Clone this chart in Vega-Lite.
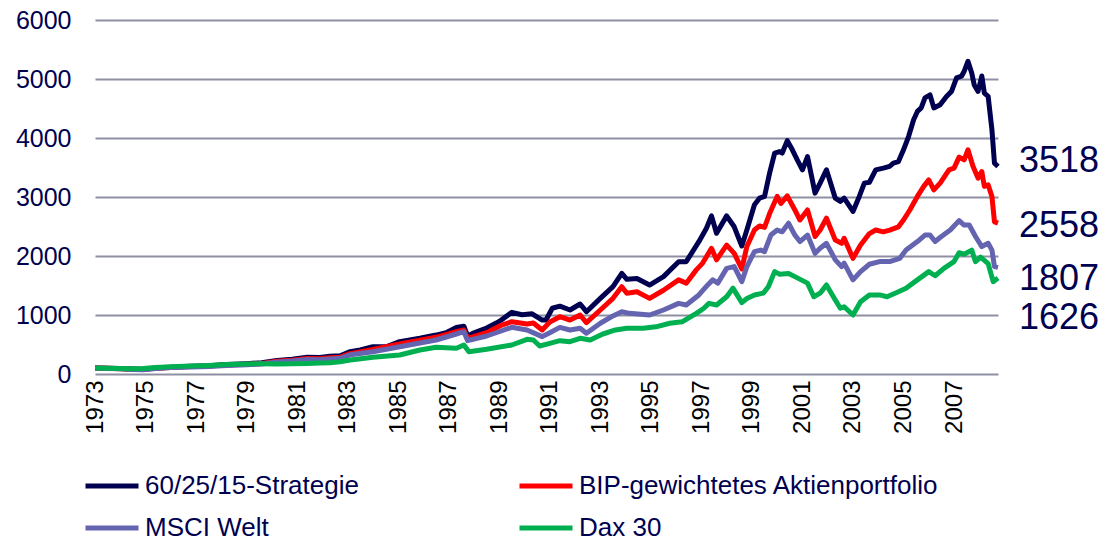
{
  "$schema": "https://vega.github.io/schema/vega-lite/v6.json",
  "autosize": "none",
  "padding": {"left": 95, "top": 20, "right": 105, "bottom": 168},
  "width": 903,
  "height": 354,
  "config": {"view": {"stroke": null}, "font": "Liberation Sans", "background": "white"},
  "datasets": {
    "lines": [
      {"s":"60/25/15-Strategie","t":1973.0,"v":100},{"s":"60/25/15-Strategie","t":1973.5,"v":97},{"s":"60/25/15-Strategie","t":1974.0,"v":92},{"s":"60/25/15-Strategie","t":1974.5,"v":85},{"s":"60/25/15-Strategie","t":1974.9,"v":80},{"s":"60/25/15-Strategie","t":1975.4,"v":100},{"s":"60/25/15-Strategie","t":1976.0,"v":115},{"s":"60/25/15-Strategie","t":1976.8,"v":130},{"s":"60/25/15-Strategie","t":1977.5,"v":140},{"s":"60/25/15-Strategie","t":1978.2,"v":160},{"s":"60/25/15-Strategie","t":1979.0,"v":175},{"s":"60/25/15-Strategie","t":1979.6,"v":190},{"s":"60/25/15-Strategie","t":1980.2,"v":230},{"s":"60/25/15-Strategie","t":1980.8,"v":250},{"s":"60/25/15-Strategie","t":1981.4,"v":283},{"s":"60/25/15-Strategie","t":1981.9,"v":280},{"s":"60/25/15-Strategie","t":1982.3,"v":300},{"s":"60/25/15-Strategie","t":1982.7,"v":310},{"s":"60/25/15-Strategie","t":1983.1,"v":378},{"s":"60/25/15-Strategie","t":1983.5,"v":407},{"s":"60/25/15-Strategie","t":1984.0,"v":463},{"s":"60/25/15-Strategie","t":1984.55,"v":463},{"s":"60/25/15-Strategie","t":1985.06,"v":548},{"s":"60/25/15-Strategie","t":1985.86,"v":605},{"s":"60/25/15-Strategie","t":1986.5,"v":660},{"s":"60/25/15-Strategie","t":1986.9,"v":700},{"s":"60/25/15-Strategie","t":1987.3,"v":790},{"s":"60/25/15-Strategie","t":1987.6,"v":810},{"s":"60/25/15-Strategie","t":1987.75,"v":640},{"s":"60/25/15-Strategie","t":1987.95,"v":690},{"s":"60/25/15-Strategie","t":1988.5,"v":780},{"s":"60/25/15-Strategie","t":1989.0,"v":890},{"s":"60/25/15-Strategie","t":1989.5,"v":1045},{"s":"60/25/15-Strategie","t":1989.9,"v":1005},{"s":"60/25/15-Strategie","t":1990.3,"v":1020},{"s":"60/25/15-Strategie","t":1990.7,"v":915},{"s":"60/25/15-Strategie","t":1990.85,"v":915},{"s":"60/25/15-Strategie","t":1991.1,"v":1115},{"s":"60/25/15-Strategie","t":1991.4,"v":1150},{"s":"60/25/15-Strategie","t":1991.8,"v":1085},{"s":"60/25/15-Strategie","t":1992.2,"v":1186},{"s":"60/25/15-Strategie","t":1992.45,"v":1056},{"s":"60/25/15-Strategie","t":1993.0,"v":1282},{"s":"60/25/15-Strategie","t":1993.5,"v":1480},{"s":"60/25/15-Strategie","t":1993.85,"v":1706},{"s":"60/25/15-Strategie","t":1994.05,"v":1605},{"s":"60/25/15-Strategie","t":1994.45,"v":1620},{"s":"60/25/15-Strategie","t":1994.95,"v":1508},{"s":"60/25/15-Strategie","t":1995.5,"v":1650},{"s":"60/25/15-Strategie","t":1996.1,"v":1904},{"s":"60/25/15-Strategie","t":1996.4,"v":1904},{"s":"60/25/15-Strategie","t":1996.9,"v":2243},{"s":"60/25/15-Strategie","t":1997.2,"v":2470},{"s":"60/25/15-Strategie","t":1997.4,"v":2680},{"s":"60/25/15-Strategie","t":1997.6,"v":2385},{"s":"60/25/15-Strategie","t":1998.0,"v":2680},{"s":"60/25/15-Strategie","t":1998.3,"v":2495},{"s":"60/25/15-Strategie","t":1998.6,"v":2170},{"s":"60/25/15-Strategie","t":1998.8,"v":2440},{"s":"60/25/15-Strategie","t":1999.1,"v":2870},{"s":"60/25/15-Strategie","t":1999.3,"v":2980},{"s":"60/25/15-Strategie","t":1999.5,"v":3010},{"s":"60/25/15-Strategie","t":1999.7,"v":3405},{"s":"60/25/15-Strategie","t":1999.9,"v":3745},{"s":"60/25/15-Strategie","t":2000.1,"v":3770},{"s":"60/25/15-Strategie","t":2000.2,"v":3745},{"s":"60/25/15-Strategie","t":2000.4,"v":3955},{"s":"60/25/15-Strategie","t":2000.6,"v":3800},{"s":"60/25/15-Strategie","t":2000.8,"v":3625},{"s":"60/25/15-Strategie","t":2001.0,"v":3460},{"s":"60/25/15-Strategie","t":2001.2,"v":3685},{"s":"60/25/15-Strategie","t":2001.5,"v":3065},{"s":"60/25/15-Strategie","t":2001.7,"v":3235},{"s":"60/25/15-Strategie","t":2001.95,"v":3460},{"s":"60/25/15-Strategie","t":2002.3,"v":2980},{"s":"60/25/15-Strategie","t":2002.5,"v":2925},{"s":"60/25/15-Strategie","t":2002.65,"v":2980},{"s":"60/25/15-Strategie","t":2003.0,"v":2755},{"s":"60/25/15-Strategie","t":2003.25,"v":3010},{"s":"60/25/15-Strategie","t":2003.45,"v":3235},{"s":"60/25/15-Strategie","t":2003.65,"v":3250},{"s":"60/25/15-Strategie","t":2003.9,"v":3460},{"s":"60/25/15-Strategie","t":2004.2,"v":3490},{"s":"60/25/15-Strategie","t":2004.45,"v":3520},{"s":"60/25/15-Strategie","t":2004.6,"v":3575},{"s":"60/25/15-Strategie","t":2004.8,"v":3600},{"s":"60/25/15-Strategie","t":2005.0,"v":3800},{"s":"60/25/15-Strategie","t":2005.2,"v":4025},{"s":"60/25/15-Strategie","t":2005.4,"v":4310},{"s":"60/25/15-Strategie","t":2005.55,"v":4450},{"s":"60/25/15-Strategie","t":2005.7,"v":4510},{"s":"60/25/15-Strategie","t":2005.85,"v":4680},{"s":"60/25/15-Strategie","t":2006.05,"v":4730},{"s":"60/25/15-Strategie","t":2006.2,"v":4510},{"s":"60/25/15-Strategie","t":2006.45,"v":4565},{"s":"60/25/15-Strategie","t":2006.7,"v":4705},{"s":"60/25/15-Strategie","t":2006.9,"v":4790},{"s":"60/25/15-Strategie","t":2007.1,"v":5020},{"s":"60/25/15-Strategie","t":2007.3,"v":5050},{"s":"60/25/15-Strategie","t":2007.4,"v":5130},{"s":"60/25/15-Strategie","t":2007.55,"v":5300},{"s":"60/25/15-Strategie","t":2007.7,"v":5100},{"s":"60/25/15-Strategie","t":2007.8,"v":4900},{"s":"60/25/15-Strategie","t":2007.95,"v":4790},{"s":"60/25/15-Strategie","t":2008.1,"v":5050},{"s":"60/25/15-Strategie","t":2008.2,"v":4760},{"s":"60/25/15-Strategie","t":2008.35,"v":4705},{"s":"60/25/15-Strategie","t":2008.5,"v":4140},{"s":"60/25/15-Strategie","t":2008.6,"v":3575},{"s":"60/25/15-Strategie","t":2008.74,"v":3518},

      {"s":"BIP-gewichtetes Aktienportfolio","t":1973.0,"v":100},{"s":"BIP-gewichtetes Aktienportfolio","t":1973.5,"v":96},{"s":"BIP-gewichtetes Aktienportfolio","t":1974.0,"v":90},{"s":"BIP-gewichtetes Aktienportfolio","t":1974.5,"v":82},{"s":"BIP-gewichtetes Aktienportfolio","t":1974.9,"v":78},{"s":"BIP-gewichtetes Aktienportfolio","t":1975.4,"v":98},{"s":"BIP-gewichtetes Aktienportfolio","t":1976.0,"v":112},{"s":"BIP-gewichtetes Aktienportfolio","t":1976.8,"v":125},{"s":"BIP-gewichtetes Aktienportfolio","t":1977.5,"v":135},{"s":"BIP-gewichtetes Aktienportfolio","t":1978.2,"v":152},{"s":"BIP-gewichtetes Aktienportfolio","t":1979.0,"v":165},{"s":"BIP-gewichtetes Aktienportfolio","t":1979.6,"v":178},{"s":"BIP-gewichtetes Aktienportfolio","t":1980.2,"v":215},{"s":"BIP-gewichtetes Aktienportfolio","t":1980.8,"v":232},{"s":"BIP-gewichtetes Aktienportfolio","t":1981.4,"v":262},{"s":"BIP-gewichtetes Aktienportfolio","t":1981.9,"v":260},{"s":"BIP-gewichtetes Aktienportfolio","t":1982.3,"v":275},{"s":"BIP-gewichtetes Aktienportfolio","t":1982.7,"v":285},{"s":"BIP-gewichtetes Aktienportfolio","t":1983.1,"v":345},{"s":"BIP-gewichtetes Aktienportfolio","t":1984.0,"v":418},{"s":"BIP-gewichtetes Aktienportfolio","t":1985.06,"v":508},{"s":"BIP-gewichtetes Aktienportfolio","t":1986.5,"v":622},{"s":"BIP-gewichtetes Aktienportfolio","t":1987.3,"v":717},{"s":"BIP-gewichtetes Aktienportfolio","t":1987.6,"v":746},{"s":"BIP-gewichtetes Aktienportfolio","t":1987.75,"v":605},{"s":"BIP-gewichtetes Aktienportfolio","t":1988.5,"v":700},{"s":"BIP-gewichtetes Aktienportfolio","t":1989.1,"v":830},{"s":"BIP-gewichtetes Aktienportfolio","t":1989.5,"v":887},{"s":"BIP-gewichtetes Aktienportfolio","t":1990.1,"v":848},{"s":"BIP-gewichtetes Aktienportfolio","t":1990.35,"v":865},{"s":"BIP-gewichtetes Aktienportfolio","t":1990.7,"v":746},{"s":"BIP-gewichtetes Aktienportfolio","t":1991.0,"v":880},{"s":"BIP-gewichtetes Aktienportfolio","t":1991.4,"v":971},{"s":"BIP-gewichtetes Aktienportfolio","t":1991.8,"v":915},{"s":"BIP-gewichtetes Aktienportfolio","t":1992.2,"v":1000},{"s":"BIP-gewichtetes Aktienportfolio","t":1992.45,"v":870},{"s":"BIP-gewichtetes Aktienportfolio","t":1993.0,"v":1085},{"s":"BIP-gewichtetes Aktienportfolio","t":1993.5,"v":1282},{"s":"BIP-gewichtetes Aktienportfolio","t":1993.85,"v":1480},{"s":"BIP-gewichtetes Aktienportfolio","t":1994.05,"v":1370},{"s":"BIP-gewichtetes Aktienportfolio","t":1994.45,"v":1395},{"s":"BIP-gewichtetes Aktienportfolio","t":1994.95,"v":1282},{"s":"BIP-gewichtetes Aktienportfolio","t":1995.5,"v":1420},{"s":"BIP-gewichtetes Aktienportfolio","t":1996.1,"v":1595},{"s":"BIP-gewichtetes Aktienportfolio","t":1996.4,"v":1540},{"s":"BIP-gewichtetes Aktienportfolio","t":1996.8,"v":1765},{"s":"BIP-gewichtetes Aktienportfolio","t":1997.05,"v":1880},{"s":"BIP-gewichtetes Aktienportfolio","t":1997.4,"v":2130},{"s":"BIP-gewichtetes Aktienportfolio","t":1997.6,"v":1935},{"s":"BIP-gewichtetes Aktienportfolio","t":1998.0,"v":2185},{"s":"BIP-gewichtetes Aktienportfolio","t":1998.3,"v":2045},{"s":"BIP-gewichtetes Aktienportfolio","t":1998.6,"v":1780},{"s":"BIP-gewichtetes Aktienportfolio","t":1998.8,"v":2160},{"s":"BIP-gewichtetes Aktienportfolio","t":1999.1,"v":2440},{"s":"BIP-gewichtetes Aktienportfolio","t":1999.3,"v":2510},{"s":"BIP-gewichtetes Aktienportfolio","t":1999.5,"v":2485},{"s":"BIP-gewichtetes Aktienportfolio","t":1999.7,"v":2720},{"s":"BIP-gewichtetes Aktienportfolio","t":2000.0,"v":3010},{"s":"BIP-gewichtetes Aktienportfolio","t":2000.15,"v":2890},{"s":"BIP-gewichtetes Aktienportfolio","t":2000.4,"v":3020},{"s":"BIP-gewichtetes Aktienportfolio","t":2000.7,"v":2780},{"s":"BIP-gewichtetes Aktienportfolio","t":2000.9,"v":2610},{"s":"BIP-gewichtetes Aktienportfolio","t":2001.2,"v":2780},{"s":"BIP-gewichtetes Aktienportfolio","t":2001.5,"v":2330},{"s":"BIP-gewichtetes Aktienportfolio","t":2001.7,"v":2440},{"s":"BIP-gewichtetes Aktienportfolio","t":2001.95,"v":2640},{"s":"BIP-gewichtetes Aktienportfolio","t":2002.3,"v":2270},{"s":"BIP-gewichtetes Aktienportfolio","t":2002.55,"v":2215},{"s":"BIP-gewichtetes Aktienportfolio","t":2002.65,"v":2300},{"s":"BIP-gewichtetes Aktienportfolio","t":2003.0,"v":1960},{"s":"BIP-gewichtetes Aktienportfolio","t":2003.3,"v":2185},{"s":"BIP-gewichtetes Aktienportfolio","t":2003.65,"v":2380},{"s":"BIP-gewichtetes Aktienportfolio","t":2003.9,"v":2440},{"s":"BIP-gewichtetes Aktienportfolio","t":2004.2,"v":2410},{"s":"BIP-gewichtetes Aktienportfolio","t":2004.45,"v":2440},{"s":"BIP-gewichtetes Aktienportfolio","t":2004.8,"v":2495},{"s":"BIP-gewichtetes Aktienportfolio","t":2005.0,"v":2610},{"s":"BIP-gewichtetes Aktienportfolio","t":2005.25,"v":2780},{"s":"BIP-gewichtetes Aktienportfolio","t":2005.55,"v":3010},{"s":"BIP-gewichtetes Aktienportfolio","t":2005.8,"v":3180},{"s":"BIP-gewichtetes Aktienportfolio","t":2006.0,"v":3290},{"s":"BIP-gewichtetes Aktienportfolio","t":2006.2,"v":3120},{"s":"BIP-gewichtetes Aktienportfolio","t":2006.45,"v":3235},{"s":"BIP-gewichtetes Aktienportfolio","t":2006.8,"v":3460},{"s":"BIP-gewichtetes Aktienportfolio","t":2007.0,"v":3490},{"s":"BIP-gewichtetes Aktienportfolio","t":2007.2,"v":3675},{"s":"BIP-gewichtetes Aktienportfolio","t":2007.4,"v":3630},{"s":"BIP-gewichtetes Aktienportfolio","t":2007.55,"v":3800},{"s":"BIP-gewichtetes Aktienportfolio","t":2007.75,"v":3520},{"s":"BIP-gewichtetes Aktienportfolio","t":2007.95,"v":3320},{"s":"BIP-gewichtetes Aktienportfolio","t":2008.1,"v":3430},{"s":"BIP-gewichtetes Aktienportfolio","t":2008.2,"v":3180},{"s":"BIP-gewichtetes Aktienportfolio","t":2008.35,"v":3205},{"s":"BIP-gewichtetes Aktienportfolio","t":2008.5,"v":3010},{"s":"BIP-gewichtetes Aktienportfolio","t":2008.6,"v":2580},{"s":"BIP-gewichtetes Aktienportfolio","t":2008.74,"v":2558},

      {"s":"MSCI Welt","t":1973.0,"v":100},{"s":"MSCI Welt","t":1973.5,"v":95},{"s":"MSCI Welt","t":1974.0,"v":88},{"s":"MSCI Welt","t":1974.5,"v":78},{"s":"MSCI Welt","t":1974.9,"v":72},{"s":"MSCI Welt","t":1975.4,"v":95},{"s":"MSCI Welt","t":1976.0,"v":108},{"s":"MSCI Welt","t":1976.8,"v":120},{"s":"MSCI Welt","t":1977.5,"v":128},{"s":"MSCI Welt","t":1978.2,"v":145},{"s":"MSCI Welt","t":1979.0,"v":158},{"s":"MSCI Welt","t":1979.6,"v":170},{"s":"MSCI Welt","t":1980.2,"v":205},{"s":"MSCI Welt","t":1980.8,"v":220},{"s":"MSCI Welt","t":1981.4,"v":245},{"s":"MSCI Welt","t":1981.9,"v":240},{"s":"MSCI Welt","t":1982.3,"v":255},{"s":"MSCI Welt","t":1982.7,"v":266},{"s":"MSCI Welt","t":1983.1,"v":325},{"s":"MSCI Welt","t":1984.0,"v":378},{"s":"MSCI Welt","t":1985.06,"v":463},{"s":"MSCI Welt","t":1986.5,"v":576},{"s":"MSCI Welt","t":1987.3,"v":678},{"s":"MSCI Welt","t":1987.6,"v":717},{"s":"MSCI Welt","t":1987.75,"v":565},{"s":"MSCI Welt","t":1988.5,"v":644},{"s":"MSCI Welt","t":1989.5,"v":792},{"s":"MSCI Welt","t":1990.1,"v":746},{"s":"MSCI Welt","t":1990.7,"v":633},{"s":"MSCI Welt","t":1991.0,"v":700},{"s":"MSCI Welt","t":1991.4,"v":790},{"s":"MSCI Welt","t":1991.8,"v":746},{"s":"MSCI Welt","t":1992.2,"v":775},{"s":"MSCI Welt","t":1992.45,"v":690},{"s":"MSCI Welt","t":1993.0,"v":860},{"s":"MSCI Welt","t":1993.5,"v":985},{"s":"MSCI Welt","t":1993.85,"v":1056},{"s":"MSCI Welt","t":1994.15,"v":1028},{"s":"MSCI Welt","t":1994.95,"v":1000},{"s":"MSCI Welt","t":1995.5,"v":1085},{"s":"MSCI Welt","t":1996.1,"v":1197},{"s":"MSCI Welt","t":1996.4,"v":1170},{"s":"MSCI Welt","t":1996.9,"v":1340},{"s":"MSCI Welt","t":1997.25,"v":1510},{"s":"MSCI Welt","t":1997.45,"v":1595},{"s":"MSCI Welt","t":1997.65,"v":1540},{"s":"MSCI Welt","t":1998.0,"v":1790},{"s":"MSCI Welt","t":1998.3,"v":1820},{"s":"MSCI Welt","t":1998.6,"v":1565},{"s":"MSCI Welt","t":1998.8,"v":1820},{"s":"MSCI Welt","t":1999.1,"v":2075},{"s":"MSCI Welt","t":1999.35,"v":2100},{"s":"MSCI Welt","t":1999.5,"v":2075},{"s":"MSCI Welt","t":1999.75,"v":2355},{"s":"MSCI Welt","t":2000.0,"v":2440},{"s":"MSCI Welt","t":2000.2,"v":2410},{"s":"MSCI Welt","t":2000.45,"v":2555},{"s":"MSCI Welt","t":2000.7,"v":2355},{"s":"MSCI Welt","t":2000.9,"v":2245},{"s":"MSCI Welt","t":2001.2,"v":2355},{"s":"MSCI Welt","t":2001.5,"v":2045},{"s":"MSCI Welt","t":2001.7,"v":2130},{"s":"MSCI Welt","t":2001.95,"v":2215},{"s":"MSCI Welt","t":2002.3,"v":1935},{"s":"MSCI Welt","t":2002.55,"v":1820},{"s":"MSCI Welt","t":2002.65,"v":1880},{"s":"MSCI Welt","t":2003.0,"v":1595},{"s":"MSCI Welt","t":2003.3,"v":1735},{"s":"MSCI Welt","t":2003.65,"v":1860},{"s":"MSCI Welt","t":2004.05,"v":1905},{"s":"MSCI Welt","t":2004.45,"v":1905},{"s":"MSCI Welt","t":2004.85,"v":1960},{"s":"MSCI Welt","t":2005.1,"v":2100},{"s":"MSCI Welt","t":2005.55,"v":2245},{"s":"MSCI Welt","t":2005.85,"v":2355},{"s":"MSCI Welt","t":2006.05,"v":2355},{"s":"MSCI Welt","t":2006.25,"v":2245},{"s":"MSCI Welt","t":2006.5,"v":2330},{"s":"MSCI Welt","t":2006.85,"v":2440},{"s":"MSCI Welt","t":2007.2,"v":2600},{"s":"MSCI Welt","t":2007.4,"v":2525},{"s":"MSCI Welt","t":2007.6,"v":2525},{"s":"MSCI Welt","t":2007.85,"v":2330},{"s":"MSCI Welt","t":2008.1,"v":2160},{"s":"MSCI Welt","t":2008.35,"v":2215},{"s":"MSCI Welt","t":2008.5,"v":2100},{"s":"MSCI Welt","t":2008.6,"v":1820},{"s":"MSCI Welt","t":2008.74,"v":1807},

      {"s":"Dax 30","t":1973.0,"v":100},{"s":"Dax 30","t":1973.5,"v":98},{"s":"Dax 30","t":1974.0,"v":95},{"s":"Dax 30","t":1974.5,"v":90},{"s":"Dax 30","t":1974.9,"v":92},{"s":"Dax 30","t":1975.4,"v":110},{"s":"Dax 30","t":1976.0,"v":125},{"s":"Dax 30","t":1976.8,"v":135},{"s":"Dax 30","t":1977.5,"v":145},{"s":"Dax 30","t":1978.2,"v":160},{"s":"Dax 30","t":1979.0,"v":170},{"s":"Dax 30","t":1979.6,"v":175},{"s":"Dax 30","t":1980.2,"v":170},{"s":"Dax 30","t":1980.8,"v":172},{"s":"Dax 30","t":1981.4,"v":180},{"s":"Dax 30","t":1981.9,"v":185},{"s":"Dax 30","t":1982.3,"v":190},{"s":"Dax 30","t":1982.7,"v":209},{"s":"Dax 30","t":1983.1,"v":237},{"s":"Dax 30","t":1984.0,"v":283},{"s":"Dax 30","t":1985.06,"v":322},{"s":"Dax 30","t":1985.86,"v":407},{"s":"Dax 30","t":1986.5,"v":452},{"s":"Dax 30","t":1987.3,"v":435},{"s":"Dax 30","t":1987.6,"v":492},{"s":"Dax 30","t":1987.8,"v":378},{"s":"Dax 30","t":1988.5,"v":418},{"s":"Dax 30","t":1989.5,"v":492},{"s":"Dax 30","t":1990.1,"v":588},{"s":"Dax 30","t":1990.35,"v":576},{"s":"Dax 30","t":1990.6,"v":475},{"s":"Dax 30","t":1991.0,"v":520},{"s":"Dax 30","t":1991.4,"v":565},{"s":"Dax 30","t":1991.8,"v":548},{"s":"Dax 30","t":1992.2,"v":605},{"s":"Dax 30","t":1992.6,"v":576},{"s":"Dax 30","t":1993.1,"v":678},{"s":"Dax 30","t":1993.6,"v":746},{"s":"Dax 30","t":1994.05,"v":775},{"s":"Dax 30","t":1994.7,"v":775},{"s":"Dax 30","t":1995.2,"v":800},{"s":"Dax 30","t":1995.75,"v":860},{"s":"Dax 30","t":1996.25,"v":887},{"s":"Dax 30","t":1996.8,"v":1028},{"s":"Dax 30","t":1997.1,"v":1115},{"s":"Dax 30","t":1997.3,"v":1197},{"s":"Dax 30","t":1997.6,"v":1170},{"s":"Dax 30","t":1998.0,"v":1310},{"s":"Dax 30","t":1998.25,"v":1455},{"s":"Dax 30","t":1998.6,"v":1210},{"s":"Dax 30","t":1998.8,"v":1280},{"s":"Dax 30","t":1999.1,"v":1340},{"s":"Dax 30","t":1999.45,"v":1370},{"s":"Dax 30","t":1999.65,"v":1480},{"s":"Dax 30","t":1999.9,"v":1735},{"s":"Dax 30","t":2000.1,"v":1690},{"s":"Dax 30","t":2000.45,"v":1705},{"s":"Dax 30","t":2000.7,"v":1650},{"s":"Dax 30","t":2000.95,"v":1595},{"s":"Dax 30","t":2001.2,"v":1540},{"s":"Dax 30","t":2001.45,"v":1310},{"s":"Dax 30","t":2001.7,"v":1370},{"s":"Dax 30","t":2001.95,"v":1510},{"s":"Dax 30","t":2002.3,"v":1255},{"s":"Dax 30","t":2002.5,"v":1115},{"s":"Dax 30","t":2002.65,"v":1140},{"s":"Dax 30","t":2003.0,"v":1000},{"s":"Dax 30","t":2003.3,"v":1225},{"s":"Dax 30","t":2003.65,"v":1340},{"s":"Dax 30","t":2004.05,"v":1340},{"s":"Dax 30","t":2004.35,"v":1310},{"s":"Dax 30","t":2004.8,"v":1395},{"s":"Dax 30","t":2005.1,"v":1455},{"s":"Dax 30","t":2005.55,"v":1595},{"s":"Dax 30","t":2006.0,"v":1735},{"s":"Dax 30","t":2006.25,"v":1665},{"s":"Dax 30","t":2006.6,"v":1790},{"s":"Dax 30","t":2007.0,"v":1905},{"s":"Dax 30","t":2007.2,"v":2055},{"s":"Dax 30","t":2007.4,"v":2030},{"s":"Dax 30","t":2007.7,"v":2100},{"s":"Dax 30","t":2007.85,"v":1905},{"s":"Dax 30","t":2008.05,"v":1980},{"s":"Dax 30","t":2008.35,"v":1870},{"s":"Dax 30","t":2008.55,"v":1565},{"s":"Dax 30","t":2008.74,"v":1626}
    ],
    "labels": [
      {"label":"3518","t":2008.74,"p":3610},
      {"label":"2558","t":2008.74,"p":2510},
      {"label":"1807","t":2008.74,"p":1610},
      {"label":"1626","t":2008.74,"p":950}
    ]
  },
  "layer": [
    {
      "data": {"name": "lines"},
      "mark": {"type": "line", "strokeWidth": 5, "strokeJoin": "round", "clip": false},
      "encoding": {
        "x": {"field": "t", "type": "quantitative",
          "scale": {"domain": [1973, 2008.74], "nice": false, "zero": false},
          "axis": {"values": [1973,1975,1977,1979,1981,1983,1985,1987,1989,1991,1993,1995,1997,1999,2001,2003,2005,2007],
            "format": "d", "labelAngle": -90, "labelFontSize": 24, "labelColor": "#000000",
            "ticks": false, "domain": false, "grid": false, "title": null, "labelPadding": 6,
            "labelFlush": false, "labelOverlap": false}},
        "y": {"field": "v", "type": "quantitative",
          "scale": {"domain": [0, 6000], "nice": false},
          "axis": {"values": [0,1000,2000,3000,4000,5000,6000], "format": "d", "labelFontSize": 25,
            "labelColor": "#000050", "ticks": false, "domain": false, "grid": true,
            "gridColor": "#8f8fa3", "gridWidth": 2, "title": null, "labelPadding": 24}},
        "color": {"field": "s", "type": "nominal",
          "scale": {"domain": ["60/25/15-Strategie","BIP-gewichtetes Aktienportfolio","MSCI Welt","Dax 30"],
                    "range": ["#000050","#ff0000","#6464b0","#00b050"]},
          "legend": {"title": null, "orient": "none", "legendX": -12, "legendY": 437, "columns": 2,
            "columnPadding": 150, "rowPadding": -8, "symbolType": "stroke", "symbolSize": 2809,
            "symbolStrokeWidth": 5, "labelFontSize": 26, "labelColor": "#000050", "labelOffset": 4,
            "labelLimit": 500, "direction": "horizontal"}},
        "order": {"field": "t", "type": "quantitative"}
      }
    },
    {
      "data": {"name": "labels"},
      "mark": {"type": "text", "align": "left", "baseline": "middle", "dx": 21, "fontSize": 36, "color": "#000050", "clip": false},
      "encoding": {
        "x": {"field": "t", "type": "quantitative"},
        "y": {"field": "p", "type": "quantitative"},
        "text": {"field": "label"}
      }
    }
  ]
}
